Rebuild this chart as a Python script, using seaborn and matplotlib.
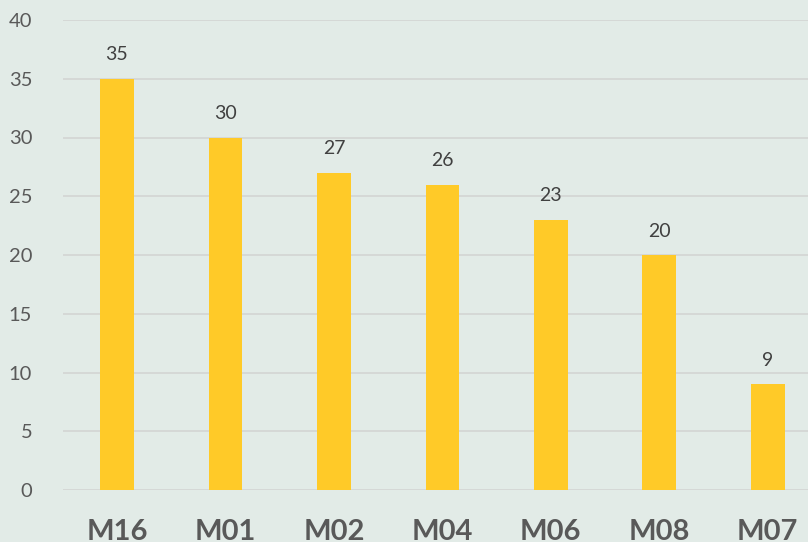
import matplotlib
matplotlib.use("Agg")
import matplotlib.pyplot as plt
import seaborn as sns
import pandas as pd

# data
categories = ["M16", "M01", "M02", "M04", "M06", "M08", "M07"]
values = [35, 30, 27, 26, 23, 20, 9]

bg = "#E2EBE7"
bar_color = "#FFCA28"
grid_color = "#D4D6D5"

sns.set_theme(style="white")
plt.rcParams["font.family"] = ["Lato", "DejaVu Sans"]

df = pd.DataFrame({"model": categories, "count": values})

fig = plt.figure(figsize=(8.08, 5.42), dpi=100, facecolor=bg)
ax = fig.add_axes([62.75 / 808, 52 / 542, (822 - 62.75) / 808, 470 / 542])
ax.set_facecolor(bg)

sns.barplot(data=df, x="model", y="count", color=bar_color, width=0.31,
            saturation=1, linewidth=0, ax=ax, zorder=3)

ax.set_ylim(0, 40)
ax.set_yticks(range(0, 41, 5))
ax.set_xlim(-0.5, len(categories) - 0.5)
ax.yaxis.grid(True, color=grid_color, linewidth=1.3, zorder=0)
ax.set_axisbelow(True)
for s in ax.spines.values():
    s.set_visible(False)

ax.set_xlabel("")
ax.set_ylabel("")
ax.tick_params(axis="y", length=0, pad=22, labelsize=14.5, labelcolor="#595959")
ax.tick_params(axis="x", length=0, pad=21, labelsize=21, labelcolor="#595959")
for lab in ax.get_xticklabels():
    lab.set_fontweight("bold")

for i, v in enumerate(values):
    ax.text(i, v + 1.3, str(v), ha="center", va="bottom", fontsize=14, color="#404040")

fig.savefig("out.png", dpi=100, facecolor=bg)
